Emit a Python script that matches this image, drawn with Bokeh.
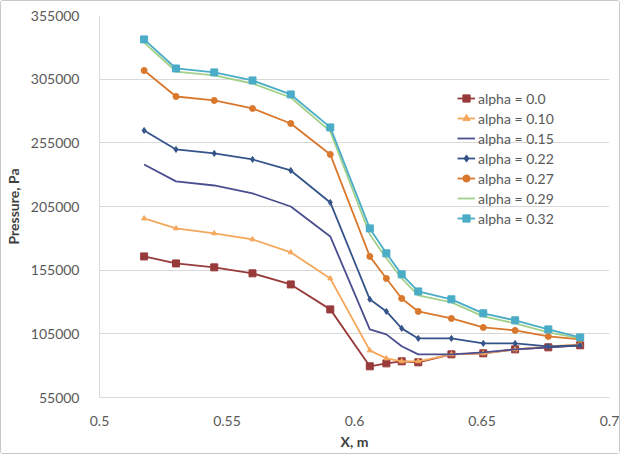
from bokeh.plotting import figure
from bokeh.models import FixedTicker, Legend, LegendItem, ColumnDataSource
from bokeh.embed import file_html
from bokeh.resources import INLINE

# ---- data ----
x_m = [0.5175, 0.53, 0.545, 0.56, 0.575, 0.5905, 0.606, 0.6125, 0.6185,
       0.625, 0.638, 0.6505, 0.663, 0.676, 0.6885]

p_a000 = [165800, 160300, 157200, 152500, 143800, 124200, 79500, 81800, 83400,
          82600, 88900, 89700, 92800, 94400, 96000]
p_a010 = [195600, 187800, 183900, 179200, 169000, 148500, 92000, 85700, 83400,
          83400, 88900, 89700, 92800, 95200, 96700]
p_a015 = [238000, 224700, 221500, 215300, 205000, 181500, 108500, 104600, 95200,
          88900, 88900, 90500, 92800, 94400, 96000]
p_a022 = [264700, 249800, 246700, 242000, 233300, 208200, 132100, 122600, 109300,
          101400, 101400, 97500, 97500, 95200, 96000]
p_a027 = [311800, 291400, 288300, 282000, 270200, 245900, 165800, 148500, 132800,
          122600, 117100, 110000, 107700, 103000, 100600]
p_a029 = [333800, 311000, 308000, 301600, 290600, 264000, 183000, 164300, 148500,
          135200, 129700, 118700, 113200, 106200, 101400]
p_a032 = [336200, 313400, 310300, 304000, 293000, 267100, 187800, 168200, 151700,
          138300, 132100, 121100, 115600, 108500, 102200]

series_names = ["alpha = 0.0", "alpha = 0.10", "alpha = 0.15", "alpha = 0.22",
                "alpha = 0.27", "alpha = 0.29", "alpha = 0.32"]

y_ticks = [55000, 105000, 155000, 205000, 255000, 305000, 355000]
x_ticks = [0.5, 0.55, 0.6, 0.65, 0.7]
x_tick_labels = ["0.5", "0.55", "0.6", "0.65", "0.7"]

# ---- styles ----
colors = ["#983A3A", "#F5A85C", "#4B4E8F", "#35558A", "#D9782D", "#A3D08A", "#4AACC6"]
markers = ["square", "triangle", None, "diamond", "circle", None, "square"]
msizes = [7, 5, 0, 6, 6, 0, 7]
FONT = "Lato"
TXT = "#595959"

p = figure(width=620, height=454, output_backend="svg", toolbar_location=None,
           x_range=(0.5, 0.7), y_range=(55000, 355000),
           min_border_left=97, min_border_right=12, min_border_top=14,
           min_border_bottom=58,
           styles={"border": "1px solid #c8c8c8", "border-radius": "3px"})
p.outline_line_color = None
p.background_fill_color = "white"
p.border_fill_color = "white"

p.xgrid.grid_line_color = None
p.ygrid.grid_line_color = "#D9D9D9"
p.ygrid.grid_line_width = 1

p.yaxis.ticker = FixedTicker(ticks=y_ticks)
p.xaxis.ticker = FixedTicker(ticks=x_ticks)
p.xaxis.major_label_overrides = {t: l for t, l in zip(x_ticks, x_tick_labels)}
p.yaxis.formatter.use_scientific = False

for ax in (p.xaxis[0], p.yaxis[0]):
    ax.axis_line_color = "#D9D9D9"
    ax.major_tick_line_color = None
    ax.minor_tick_line_color = None
    ax.major_label_text_font = FONT
    ax.major_label_text_font_size = "14px"
    ax.major_label_text_color = TXT
    ax.axis_label_text_font = FONT
    ax.axis_label_text_font_size = "14px"
    ax.axis_label_text_font_style = "bold"
    ax.axis_label_text_color = "#404040"

p.xaxis.axis_label = "X, m"
p.yaxis.axis_label = "Pressure, Pa"
p.xaxis.major_label_standoff = 12
p.xaxis.axis_label_standoff = 4
p.yaxis.major_label_standoff = 14
p.yaxis.axis_label_standoff = 6

all_series = [p_a000, p_a010, p_a015, p_a022, p_a027, p_a029, p_a032]
items = []
for name, ys, c, m, ms in zip(series_names, all_series, colors, markers, msizes):
    src = ColumnDataSource(dict(x=x_m, y=ys))
    r_line = p.line("x", "y", source=src, line_color=c, line_width=1.8)
    rs = [r_line]
    if m is not None:
        r_m = p.scatter("x", "y", source=src, marker=m, size=ms,
                        fill_color=c, line_color=c)
        rs.append(r_m)
    items.append(LegendItem(label=name, renderers=rs))

legend = Legend(items=items, location=(358, 169))
legend.background_fill_alpha = 0
legend.border_line_color = None
legend.padding = 0
legend.margin = 0
legend.spacing = 0
legend.glyph_width = 18
legend.glyph_height = 20
legend.label_height = 20
legend.label_standoff = 3
legend.label_text_font = FONT
legend.label_text_font_size = "14px"
legend.label_text_color = TXT
p.add_layout(legend, "center")

open("out.html", "w").write(file_html(p, INLINE))
